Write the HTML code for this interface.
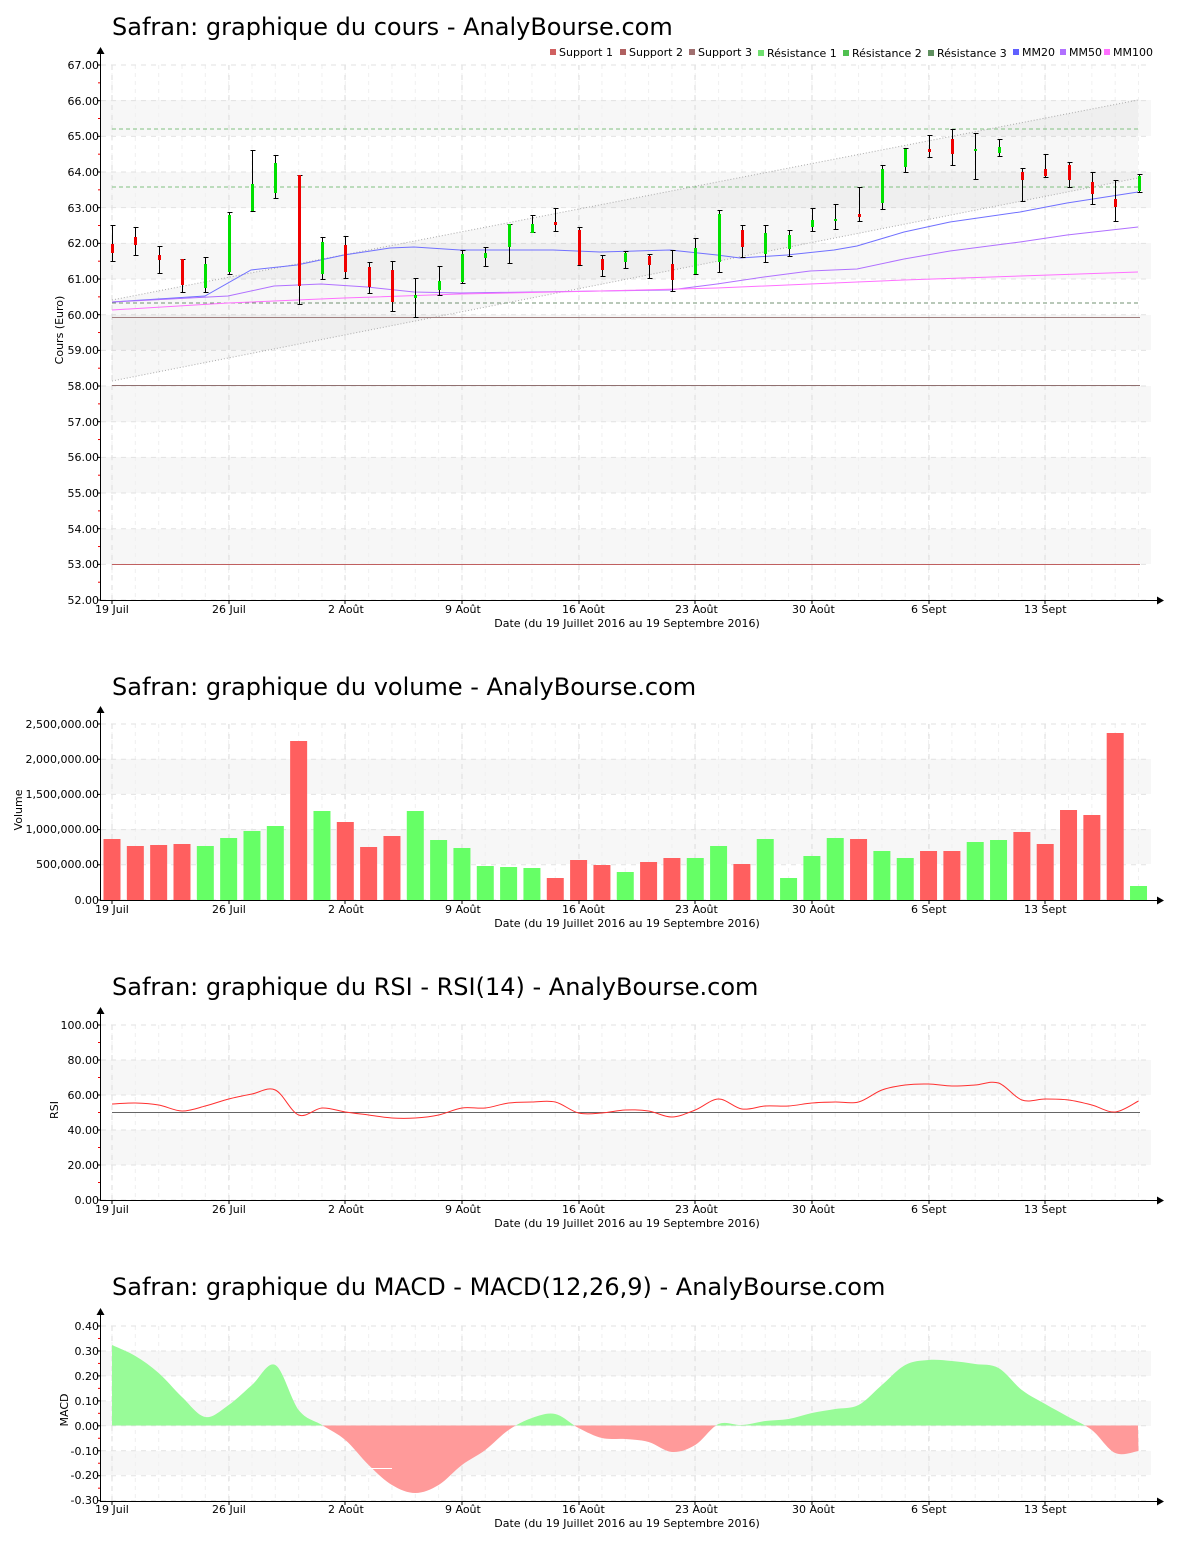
<!DOCTYPE html>
<html><head><meta charset="utf-8"><style>
html,body{margin:0;padding:0;background:#fff;}
svg{display:block;font-family:"DejaVu Sans","Liberation Sans",sans-serif;}
.t{font-size:24px;fill:#000}
.tk{font-size:11px;fill:#000}
.lg{font-size:11px;fill:#000}
</style></head><body>
<svg id="s" width="1200" height="1550" xmlns="http://www.w3.org/2000/svg">
<text class="t" x="112" y="35">Safran: graphique du cours - AnalyBourse.com</text>
<text class="t" x="112" y="695">Safran: graphique du volume - AnalyBourse.com</text>
<text class="t" x="112" y="995">Safran: graphique du RSI - RSI(14) - AnalyBourse.com</text>
<text class="t" x="112" y="1295">Safran: graphique du MACD - MACD(12,26,9) - AnalyBourse.com</text>
<g id="bg"></g>
<g id="body"></g>
<g class="lg">
<rect x="550" y="49" width="6" height="6" fill="#d06060"/><text x="559" y="56">Support 1</text>
<rect x="620" y="49" width="6" height="6" fill="#b06060"/><text x="629" y="56">Support 2</text>
<rect x="689" y="49" width="6" height="6" fill="#a07070"/><text x="698" y="56">Support 3</text>
<rect x="758" y="50" width="6" height="6" fill="#70e070"/><text x="767" y="57">Résistance 1</text>
<rect x="843" y="50" width="6" height="6" fill="#50c050"/><text x="852" y="57">Résistance 2</text>
<rect x="928" y="50" width="6" height="6" fill="#609060"/><text x="937" y="57">Résistance 3</text>
<rect x="1013" y="49" width="6" height="6" fill="#6060ff"/><text x="1022" y="56">MM20</text>
<rect x="1060" y="49" width="6" height="6" fill="#b070ff"/><text x="1069" y="56">MM50</text>
<rect x="1104" y="49" width="6" height="6" fill="#ff70ff"/><text x="1113" y="56">MM100</text>
</g>
<g class="tk" text-anchor="end">
<text x="99" y="69">67.00</text><text x="99" y="105">66.00</text><text x="99" y="140">65.00</text><text x="99" y="176">64.00</text><text x="99" y="212">63.00</text><text x="99" y="247">62.00</text><text x="99" y="283">61.00</text><text x="99" y="319">60.00</text><text x="99" y="354">59.00</text><text x="99" y="390">58.00</text><text x="99" y="426">57.00</text><text x="99" y="461">56.00</text><text x="99" y="497">55.00</text><text x="99" y="533">54.00</text><text x="99" y="568">53.00</text><text x="99" y="604">52.00</text>
<text x="99" y="728">2,500,000.00</text><text x="99" y="763">2,000,000.00</text><text x="99" y="798">1,500,000.00</text><text x="99" y="833">1,000,000.00</text><text x="99" y="868">500,000.00</text><text x="99" y="904">0.00</text>
<text x="99" y="1029">100.00</text><text x="99" y="1064">80.00</text><text x="99" y="1099">60.00</text><text x="99" y="1134">40.00</text><text x="99" y="1169">20.00</text><text x="99" y="1204">0.00</text>
<text x="99" y="1330">0.40</text><text x="99" y="1355">0.30</text><text x="99" y="1380">0.20</text><text x="99" y="1405">0.10</text><text x="99" y="1430">0.00</text><text x="99" y="1455">-0.10</text><text x="99" y="1479">-0.20</text><text x="99" y="1504">-0.30</text>
</g>
<g class="tk" transform="rotate(-90)" text-anchor="middle">
<text x="-330" y="63">Cours (Euro)</text>
<text x="-810" y="22">Volume</text>
<text x="-1110" y="58">RSI</text>
<text x="-1410" y="68">MACD</text>
</g>
<g class="tk" text-anchor="middle">
<text x="627" y="627">Date (du 19 Juillet 2016 au 19 Septembre 2016)</text>
<text x="627" y="927">Date (du 19 Juillet 2016 au 19 Septembre 2016)</text>
<text x="627" y="1227">Date (du 19 Juillet 2016 au 19 Septembre 2016)</text>
<text x="627" y="1527">Date (du 19 Juillet 2016 au 19 Septembre 2016)</text>
</g>
<g class="tk">
<text x="95" y="613">19 Juil</text><text x="212" y="613">26 Juil</text><text x="328" y="613">2 Août</text><text x="445" y="613">9 Août</text><text x="562" y="613">16 Août</text><text x="675" y="613">23 Août</text><text x="792" y="613">30 Août</text><text x="911" y="613">6 Sept</text><text x="1024" y="613">13 Sept</text>
<text x="95" y="913">19 Juil</text><text x="212" y="913">26 Juil</text><text x="328" y="913">2 Août</text><text x="445" y="913">9 Août</text><text x="562" y="913">16 Août</text><text x="675" y="913">23 Août</text><text x="792" y="913">30 Août</text><text x="911" y="913">6 Sept</text><text x="1024" y="913">13 Sept</text>
<text x="95" y="1213">19 Juil</text><text x="212" y="1213">26 Juil</text><text x="328" y="1213">2 Août</text><text x="445" y="1213">9 Août</text><text x="562" y="1213">16 Août</text><text x="675" y="1213">23 Août</text><text x="792" y="1213">30 Août</text><text x="911" y="1213">6 Sept</text><text x="1024" y="1213">13 Sept</text>
<text x="95" y="1513">19 Juil</text><text x="212" y="1513">26 Juil</text><text x="328" y="1513">2 Août</text><text x="445" y="1513">9 Août</text><text x="562" y="1513">16 Août</text><text x="675" y="1513">23 Août</text><text x="792" y="1513">30 Août</text><text x="911" y="1513">6 Sept</text><text x="1024" y="1513">13 Sept</text>
</g>
</svg>
<script>
var NS="http://www.w3.org/2000/svg",bg=document.getElementById('bg'),bd=document.getElementById('body');
function el(p,t,a){var e=document.createElementNS(NS,t);for(var k in a)e.setAttribute(k,a[k]);p.appendChild(e);return e;}
function X(i){return 112+i*23.33;}
var weeks=[112,229,345,462,579,695,812,929,1045];
function panel(top,bot,step,bands,minor){
 bands.forEach(function(b){el(bg,'rect',{x:101,y:b[0],width:1050,height:b[1]-b[0],fill:'#f7f7f7'});});
 for(var i=0;i<45;i++){el(bg,'line',{x1:X(i),x2:X(i),y1:top,y2:bot,stroke:'#f0f0f0','stroke-dasharray':'4,4'});}
 weeks.forEach(function(w){el(bg,'line',{x1:w,x2:w,y1:top,y2:bot,stroke:'#dcdcdc','stroke-dasharray':'5,5'});
  el(bd,'line',{x1:w,x2:w,y1:bot,y2:bot+4,stroke:'#000'});});
 for(var y=top;y<=bot+0.5;y+=step){el(bg,'line',{x1:101,x2:1150,y1:y,y2:y,stroke:'#e2e2e2','stroke-dasharray':'5,5'});
  el(bd,'line',{x1:97,x2:101,y1:y,y2:y,stroke:'#000'});
  if(minor&&y+step/2<bot)el(bd,'line',{x1:98,x2:101,y1:y+step/2,y2:y+step/2,stroke:'#e00'});}
 el(bd,'line',{x1:100.5,x2:100.5,y1:top-12,y2:bot,stroke:'#000'});
 el(bd,'line',{x1:100,x2:1158,y1:bot+0.5,y2:bot+0.5,stroke:'#000'});
 el(bd,'path',{d:'M100.5 '+(top-18)+' l-4 7 h8z',fill:'#000'});
 el(bd,'path',{d:'M1164 '+(bot+0.5)+' l-7 -4 v8z',fill:'#000'});
}
panel(65,600,35.67,[[100,136],[172,208],[243,279],[315,350],[386,422],[457,493],[529,564]],true);
panel(724,900,35.2,[[759,794],[829,864]],false);
panel(1025,1200,35,[[1060,1095],[1130,1165]],true);
panel(1326,1501,24.95,[[1351,1376],[1401,1426],[1451,1475]],true);
var g=bd;
el(g,'polygon',{points:'112,300 1138,100 1138,178 112,381',fill:'rgba(0,0,0,0.03)'});
el(g,'line',{x1:112,y1:300,x2:1138,y2:100,stroke:'#aaa','stroke-dasharray':'1,2'});
el(g,'line',{x1:112,y1:381,x2:1138,y2:178,stroke:'#aaa','stroke-dasharray':'1,2'});
[[129,'#80c080'],[187,'#80c080'],[303,'#709070']].forEach(function(a){el(g,'line',{x1:112,x2:1140,y1:a[0],y2:a[0],stroke:a[1],'stroke-dasharray':'4,3'});});
el(g,'line',{x1:112,x2:1140,y1:317.5,y2:317.5,stroke:'#a08080'});
el(g,'line',{x1:112,x2:1140,y1:385.5,y2:385.5,stroke:'#907070'});
el(g,'line',{x1:112,x2:1140,y1:564.5,y2:564.5,stroke:'#c06060'});
function pl(pts,c,w){el(g,'polyline',{points:pts,fill:'none',stroke:c,'stroke-width':w||1});}
pl('112,302 205,296 251,270 297,265 344,255 390,248 414,247 460,250 553,250 600,252 670,250 717,255 740,258 787,255 834,250 857,246 904,232 950,222 1020,212 1067,203 1138,192','#7070ff');
pl('112,302 228,296 274,286 321,284 367,287 414,292 460,293 600,291 670,290 717,284 764,277 810,271 857,269 904,259 950,251 1020,242 1067,235 1138,227','#b070ff');
pl('112,310 228,303 297,300 344,298 460,294 600,291 717,288 810,284 904,280 1020,276 1138,272','#ff70ff');
var C=[['r',225,261,244,253],['r',227,255,237,245],['r',246,273,255,260],['r',259,292,259,285],['g',257,292,264,288],['g',212,274,215,272],['g',150,211,184,211],['g',155,198,163,193],['r',175,304,175,286],['g',237,279,242,274],['r',236,278,245,272],['r',262,293,267,287],['r',261,311,270,302],['g',278,317,295,298],['g',266,295,281,290],['g',250,283,254,282],['g',247,266,253,258],['g',224,263,224,247],['g',215,232,224,233],['r',208,231,222,225],['r',227,265,230,265],['r',255,276,259,270],['g',251,268,253,262],['r',254,278,256,265],['r',250,291,264,280],['g',238,274,248,274],['g',210,272,214,262],['r',225,257,230,247],['g',225,262,233,254],['g',230,256,235,249],['g',208,231,220,227],['g',204,229,219,221],['r',187,221,214,217],['g',165,209,169,203],['g',148,172,149,167],['r',135,157,149,152],['r',129,165,139,154],['g',133,179,149,151],['g',139,156,147,153],['r',168,201,172,180],['r',154,177,169,176],['r',162,187,165,180],['r',172,204,182,194],['r',180,221,199,207],['g',174,192,176,191]];
C.forEach(function(c,i){var x=Math.round(X(i))+0.5;
 el(g,'line',{x1:x,x2:x,y1:c[1],y2:c[2],stroke:'#000'});
 el(g,'line',{x1:x-2,x2:x+3,y1:c[1]+.5,y2:c[1]+.5,stroke:'#000'});
 el(g,'line',{x1:x-2,x2:x+3,y1:c[2]+.5,y2:c[2]+.5,stroke:'#000'});
 el(g,'rect',{x:x-1.5,y:c[3],width:3,height:Math.max(2,c[4]-c[3]),fill:c[0]=='r'?'#f00000':'#00e000'});});
var V=[['r',839],['r',846],['r',845],['r',844],['g',846],['g',838],['g',831],['g',826],['r',741],['g',811],['r',822],['r',847],['r',836],['g',811],['g',840],['g',848],['g',866],['g',867],['g',868],['r',878],['r',860],['r',865],['g',872],['r',862],['r',858],['g',858],['g',846],['r',864],['g',839],['g',878],['g',856],['g',838],['r',839],['g',851],['g',858],['r',851],['r',851],['g',842],['g',840],['r',832],['r',844],['r',810],['r',815],['r',733],['g',886]];
V.forEach(function(v,i){el(g,'rect',{x:X(i)-8.5,y:v[1],width:17,height:900-v[1],fill:v[0]=='r'?'#ff5f5f':'#66ff66'});});
function smooth(Y){var p=Y.map(function(y,i){return [X(i),y];});var d='M'+p[0][0]+' '+p[0][1];
 for(var i=0;i<p.length-1;i++){var p0=p[Math.max(0,i-1)],p1=p[i],p2=p[i+1],p3=p[Math.min(p.length-1,i+2)];
  d+=' C'+(p1[0]+(p2[0]-p0[0])/6)+' '+(p1[1]+(p2[1]-p0[1])/6)+' '+(p2[0]-(p3[0]-p1[0])/6)+' '+(p2[1]-(p3[1]-p1[1])/6)+' '+p2[0]+' '+p2[1];}
 return d;}
el(g,'line',{x1:112,x2:1140,y1:1112.5,y2:1112.5,stroke:'#666'});
var R=[1104,1103,1105,1111,1106,1099,1094,1090,1115,1108,1112,1115,1118,1118,1115,1108,1108,1103,1102,1102,1113,1113,1110,1111,1117,1110,1099,1109,1106,1106,1103,1102,1102,1090,1085,1084,1086,1085,1083,1100,1099,1100,1105,1112,1101];
el(g,'path',{d:smooth(R),fill:'none',stroke:'#ff3030'});
var M=[1345,1356,1373,1397,1417,1405,1385,1365,1410,1425,1440,1465,1485,1493,1485,1465,1450,1430,1418,1414,1428,1438,1439,1442,1452,1445,1424,1425,1421,1419,1413,1409,1405,1385,1365,1360,1361,1364,1368,1390,1404,1417,1430,1453,1451];
var d=smooth(M).replace(/^M/,'M112 1425.5 L')+' L1138 1425.5Z';
var cp=el(g,'clipPath',{id:'up'});el(cp,'rect',{x:100,y:1300,width:1100,height:125.5});
var cp2=el(g,'clipPath',{id:'dn'});el(cp2,'rect',{x:100,y:1425.5,width:1100,height:100});
el(g,'path',{d:d,fill:'#98fb98','clip-path':'url(#up)'});
el(g,'path',{d:d,fill:'#ff9a9a','clip-path':'url(#dn)'});
el(g,'line',{x1:368,x2:392,y1:1468.5,y2:1468.5,stroke:'#fff'});
</script>
</body></html>
